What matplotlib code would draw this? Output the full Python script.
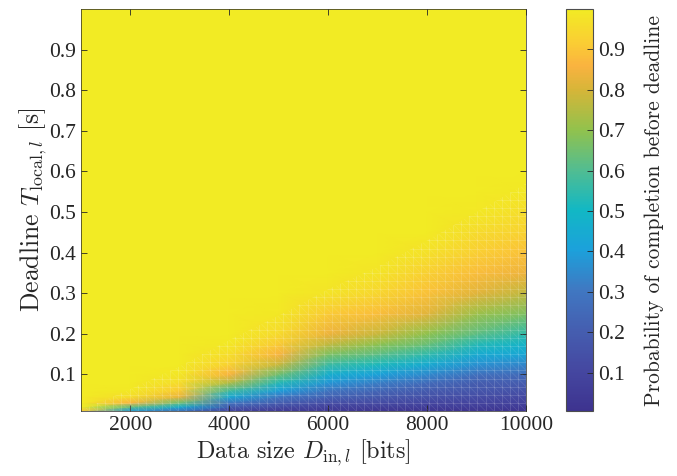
import numpy as np
import matplotlib
matplotlib.use("Agg")
import matplotlib.pyplot as plt
from matplotlib.colors import LinearSegmentedColormap
from matplotlib.patches import Polygon
from matplotlib.collections import LineCollection

# data size columns [bits] and deadline rows [s]
data_size = [1000, 2000, 3000, 4000, 5000, 6000, 7000, 8000, 9000, 10000]
deadline = [0.01, 0.02, 0.03, 0.045, 0.06, 0.08, 0.1, 0.125, 0.15, 0.175,
            0.2, 0.25, 0.3, 0.35, 0.4, 0.45, 0.5, 0.55, 0.6, 1.0]

# probability of completion, one list per data size column (bottom -> top)
p_1000 = [0.90, 1, 1, 1, 1, 1, 1, 1, 1, 1, 1, 1, 1, 1, 1, 1, 1, 1, 1, 1]
p_2000 = [0.38, 0.62, 0.86, 0.96, 0.99, 1, 1, 1, 1, 1, 1, 1, 1, 1, 1, 1, 1, 1, 1, 1]
p_3000 = [0.26, 0.45, 0.64, 0.83, 0.91, 0.96, 0.985, 1, 1, 1, 1, 1, 1, 1, 1, 1, 1, 1, 1, 1]
p_4000 = [0.08, 0.19, 0.29, 0.44, 0.58, 0.75, 0.86, 0.93, 0.965, 0.99, 1, 1, 1, 1, 1, 1, 1, 1, 1, 1]
p_5000 = [0.04, 0.12, 0.20, 0.30, 0.40, 0.53, 0.65, 0.78, 0.86, 0.91, 0.95, 0.99, 1, 1, 1, 1, 1, 1, 1, 1]
p_6000 = [0.03, 0.08, 0.13, 0.22, 0.29, 0.38, 0.46, 0.57, 0.67, 0.77, 0.84, 0.91, 0.98, 1, 1, 1, 1, 1, 1, 1]
p_7000 = [0.02, 0.07, 0.12, 0.18, 0.24, 0.32, 0.41, 0.52, 0.62, 0.70, 0.78, 0.88, 0.94, 0.98, 1, 1, 1, 1, 1, 1]
p_8000 = [0.015, 0.06, 0.10, 0.15, 0.19, 0.26, 0.35, 0.45, 0.55, 0.64, 0.70, 0.82, 0.89, 0.925, 0.97, 1, 1, 1, 1, 1]
p_9000 = [0.01, 0.06, 0.09, 0.13, 0.17, 0.20, 0.28, 0.37, 0.45, 0.53, 0.62, 0.72, 0.82, 0.88, 0.92, 0.955, 0.99, 1, 1, 1]
p_10000 = [0.005, 0.05, 0.08, 0.11, 0.15, 0.20, 0.26, 0.34, 0.43, 0.48, 0.55, 0.67, 0.77, 0.84, 0.89, 0.93, 0.96, 0.99, 1, 1]

# deadline where the surface becomes flat (P = 1), per data size
flat_from = [0.012, 0.064, 0.12, 0.185, 0.245, 0.31, 0.365, 0.43, 0.5, 0.57]

cbar_ticks = [0.1, 0.2, 0.3, 0.4, 0.5, 0.6, 0.7, 0.8, 0.9]
x_ticks = [2000, 4000, 6000, 8000, 10000]
y_ticks = [0.1, 0.2, 0.3, 0.4, 0.5, 0.6, 0.7, 0.8, 0.9]

# parula-like colormap, tuned to the colorbar of the figure
cmap = LinearSegmentedColormap.from_list("parula_like", [
    (0.00, (0.24, 0.20, 0.56)), (0.10, (0.27, 0.28, 0.63)),
    (0.20, (0.27, 0.37, 0.69)), (0.30, (0.25, 0.47, 0.76)),
    (0.40, (0.11, 0.63, 0.86)), (0.50, (0.07, 0.72, 0.77)),
    (0.60, (0.32, 0.74, 0.57)), (0.70, (0.57, 0.76, 0.30)),
    (0.80, (0.84, 0.71, 0.22)), (0.86, (0.98, 0.70, 0.25)),
    (0.92, (0.98, 0.81, 0.20)), (1.00, (0.95, 0.92, 0.14))])

plt.rcParams['mathtext.fontset'] = 'cm'
plt.rcParams['font.family'] = ['Liberation Serif', 'DejaVu Serif']
dark = (0.15, 0.15, 0.15)

prob = np.array([p_1000, p_2000, p_3000, p_4000, p_5000, p_6000, p_7000,
                 p_8000, p_9000, p_10000]).T
X, Y = np.meshgrid(data_size, deadline)

fig = plt.figure(figsize=(6.77, 4.76), dpi=100)
ax = fig.add_axes([81/677, 65/476, 445/677, 402/476])
cax = fig.add_axes([566/677, 65/476, 27/677, 402/476])

mesh = ax.pcolormesh(X, Y, prob, shading='gouraud', cmap=cmap, vmin=0.005, vmax=1.0)

# faint white mesh seams, only where the surface is not flat
clip = Polygon(list(zip(data_size, flat_from)) + [(10000, 0.0), (1000, 0.0)],
               closed=True, transform=ax.transData, facecolor='none', edgecolor='none')
ax.add_patch(clip)
gx = np.linspace(1000, 10000, 56)
gy = np.arange(0.01, 0.62, 0.02)
seams = [[(x, 0.0), (x, 0.62)] for x in gx] + [[(1000, y), (10000, y)] for y in gy]
lc = LineCollection(seams, colors='white', linewidths=0.5, alpha=0.2)
ax.add_collection(lc)
lc.set_clip_path(clip)
diag = [[(gx[i], gy[j + 1]), (gx[i + 1], gy[j])]
        for i in range(len(gx) - 1) for j in range(len(gy) - 1)]
ld = LineCollection(diag, colors='white', linewidths=0.45, alpha=0.13)
ax.add_collection(ld)
ld.set_clip_path(clip)

ax.set_xlim(1000, 10000)
ax.set_ylim(0.01, 1.0)
ax.set_xticks(x_ticks)
ax.set_yticks(y_ticks)
ax.set_xticklabels([str(v) for v in x_ticks])
ax.set_yticklabels([f"{v:.1f}" for v in y_ticks])
ax.tick_params(direction='in', length=4, width=0.6, colors=dark, labelsize=15.5,
               top=True, right=True)
for s in ax.spines.values():
    s.set_color(dark)
    s.set_linewidth(0.5)

ax.set_xlabel(r'Data size $D_{\mathrm{in},l}$ [bits]', fontsize=17.5, color=dark,
              fontfamily='cmr10', labelpad=2)
ax.set_ylabel(r'Deadline $T_{\mathrm{local},l}$ [s]', fontsize=18.5, color=dark,
              fontfamily='cmr10', labelpad=0)

cb = fig.colorbar(mesh, cax=cax, ticks=cbar_ticks)
cb.ax.tick_params(direction='in', length=4, width=0.6, colors=dark, labelsize=15.5)
cb.ax.set_yticklabels([f"{v:.1f}" for v in cbar_ticks])
cb.outline.set_edgecolor((0.3, 0.3, 0.3))
cb.outline.set_linewidth(0.8)
cb.set_label('Probability of completion before deadline', fontsize=15.5, color=dark,
             fontfamily='cmr10', labelpad=14)

fig.savefig("out.png", dpi=100)
